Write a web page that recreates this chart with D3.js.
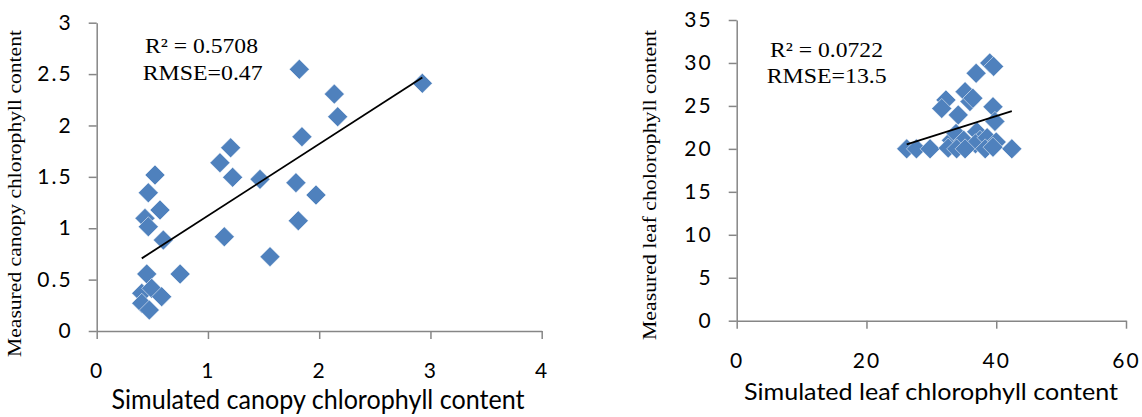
<!DOCTYPE html>
<html lang="en">
<head>
<meta charset="UTF-8">
<title>Simulated vs measured chlorophyll</title>
<script src="https://cdn.jsdelivr.net/npm/d3@7"></script>
<style>
    body { margin: 0; background: #fff; }
    .tick text { font-family: Lato, "Open Sans", sans-serif; font-size: 21px; fill: #000; letter-spacing: 2px; }
    .domain, .tick line { stroke: #868686; stroke-width: 1.5; }
</style>
</head>
<body>
<script>
    // canopy chlorophyll (left panel)
    var canopySim  = [0.45, 0.75, 0.405, 0.494, 0.584, 0.405, 0.473,
                      0.524, 0.464, 0.569, 0.434, 0.464, 0.599,
                      1.821, 2.927, 2.136, 2.166, 1.845, 1.204, 1.108, 1.222,
                      1.468, 1.791, 1.971, 1.812, 1.147, 1.558];
    var canopyMeas = [0.555, 0.554, 0.367, 0.415, 0.334, 0.27, 0.204,
                      1.518, 1.345, 1.177, 1.096, 1.015, 0.885,
                      2.546, 2.41, 2.305, 2.085, 1.89, 1.783, 1.637, 1.495,
                      1.476, 1.443, 1.323, 1.073, 0.917, 0.723];
    var canopyTrend = [0.424, 0.698];   // intercept, slope
    var canopyXTicks = [0, 1, 2, 3, 4];
    var canopyYTicks = [0, 0.5, 1, 1.5, 2, 2.5, 3];

    // leaf chlorophyll (right panel)
    var leafSim  = [39.0, 39.6, 36.9, 32.25, 31.6, 35.2, 35.95, 36.4, 34.15, 39.5, 39.8,
                    37.0, 33.6, 37.5, 33.1, 39.0, 33.8, 35.0, 36.8, 38.6, 40.0,
                    26.2, 27.7, 29.8, 32.6, 33.9, 35.2, 38.3, 39.5, 42.4];
    var leafMeas = [30.0, 29.6, 28.8, 25.7, 24.7, 26.66, 25.5, 25.9, 23.95, 24.9, 23.2,
                    22.0, 21.2, 21.0, 21.0, 20.7, 21.8, 21.0, 20.6, 21.3, 20.8,
                    20.0, 20.0, 20.0, 20.1, 20.0, 20.0, 20.0, 20.2, 20.0];
    var leafTrend = [14.25, 0.239];
    var leafXTicks = [0, 20, 40, 60];
    var leafYTicks = [0, 5, 10, 15, 20, 25, 30, 35];

    var svg = d3.select("body").append("svg")
            .attr("width", 1142)
            .attr("height", 417);

    function panel(o) {
        var x = d3.scaleLinear().domain(o.xDomain).range(o.xRange);
        var y = d3.scaleLinear().domain(o.yDomain).range(o.yRange);
        var g = svg.append("g");
        var fmt = d3.format("");

        g.append("g")
                .attr("transform", "translate(0," + o.yRange[0] + ")")
                .call(d3.axisBottom(x).tickValues(o.xTicks).tickSize(8).tickSizeOuter(0).tickPadding(24).tickFormat(fmt));
        g.append("g")
                .attr("transform", "translate(" + o.xRange[0] + ",0)")
                .call(d3.axisLeft(y).tickValues(o.yTicks).tickSize(8).tickSizeOuter(0).tickPadding(16).tickFormat(fmt));

        var pts = o.sim.map(function (d, i) { return [d, o.meas[i]]; });
        g.selectAll("path.pt")
                .data(pts)
                .enter()
                .append("path")
                .attr("class", "pt")
                .attr("d", d3.symbol().type(d3.symbolSquare).size(200))
                .attr("transform", function (d) {
                    return "translate(" + x(d[0]) + "," + y(d[1]) + ") rotate(45)";
                })
                .attr("fill", "#4F81BD")
                .attr("stroke", "#fff")
                .attr("stroke-width", 0.7)
                .attr("stroke-opacity", 0.7);

        // linear trend line over the range of the data
        var ext = d3.extent(o.sim);
        g.append("line")
                .attr("x1", x(ext[0])).attr("y1", y(o.trend[0] + o.trend[1] * ext[0]))
                .attr("x2", x(ext[1])).attr("y2", y(o.trend[0] + o.trend[1] * ext[1]))
                .attr("stroke", "#000")
                .attr("stroke-width", 1.8);

        // annotation
        g.selectAll("text.note")
                .data(o.notes)
                .enter()
                .append("text")
                .attr("class", "note")
                .attr("x", function (d) { return d.x; })
                .attr("y", function (d) { return d.y; })
                .attr("textLength", function (d) { return d.w; })
                .attr("lengthAdjust", "spacingAndGlyphs")
                .attr("font-family", "'Liberation Serif', 'Times New Roman', serif")
                .attr("font-size", 22)
                .text(function (d) { return d.t; });

        // axis titles
        g.append("text")
                .attr("x", o.xTitle.x).attr("y", o.xTitle.y)
                .attr("text-anchor", "middle")
                .attr("textLength", o.xTitle.w)
                .attr("lengthAdjust", "spacingAndGlyphs")
                .attr("font-family", "Lato, 'Open Sans', sans-serif")
                .attr("font-size", o.xTitle.size)
                .text(o.xTitle.t);
        g.append("text")
                .attr("transform", "translate(" + o.yTitle.x + "," + o.yTitle.y + ") rotate(-90)")
                .attr("text-anchor", "middle")
                .attr("textLength", o.yTitle.w)
                .attr("lengthAdjust", "spacingAndGlyphs")
                .attr("font-family", "'Liberation Serif', 'Times New Roman', serif")
                .attr("font-size", 18)
                .text(o.yTitle.t);
    }

    panel({
        sim: canopySim, meas: canopyMeas, trend: canopyTrend,
        xDomain: [0, 4], yDomain: [0, 3],
        xRange: [96.7, 541.7], yRange: [331, 22.7],
        xTicks: canopyXTicks, yTicks: canopyYTicks,
        notes: [{t: "R\u00b2 = 0.5708", x: 145, y: 52.7, w: 113},
                {t: "RMSE=0.47", x: 142.7, y: 80, w: 120}],
        xTitle: {t: "Simulated canopy chlorophyll content", x: 318, y: 409, w: 413, size: 26},
        yTitle: {t: "Measured canopy chlorophyll content", x: 21, y: 193.5, w: 327}
    });

    panel({
        sim: leafSim, meas: leafMeas, trend: leafTrend,
        xDomain: [0, 60], yDomain: [0, 35],
        xRange: [736.7, 1126], yRange: [320.7, 20],
        xTicks: leafXTicks, yTicks: leafYTicks,
        notes: [{t: "R\u00b2 = 0.0722", x: 770, y: 56.7, w: 113},
                {t: "RMSE=13.5", x: 766.7, y: 83.3, w: 120}],
        xTitle: {t: "Simulated leaf chlorophyll content", x: 931, y: 400, w: 374, size: 24},
        yTitle: {t: "Measured leaf cholorophyll content", x: 656, y: 185, w: 310}
    });
</script>
</body>
</html>
